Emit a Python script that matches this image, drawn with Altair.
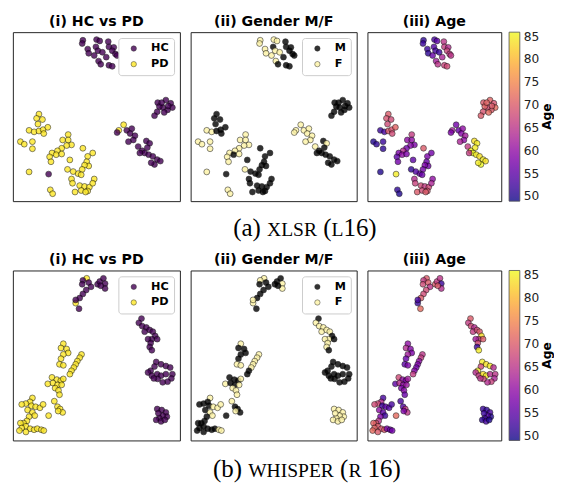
import altair as alt
import pandas as pd

# ---------------- XLSR (L16) t-SNE points ----------------
xlsr_x = ([41.9,41.5,50.1,52.0,44.8,45.4,49.7,50.9,48.7,53.6,57.1,57.5,60.4,59.5,61.4,62.4,51.3,52.6,57.5,59.5,55.9]
          + [86.7,91.6,94.5,95.5,92.6,89.7,87.7,86.4,84.8,90.6,93.0,89.1]
          + [66.3,63.4,62.4,68.2,71.2,70.2,73.1,72.1,69.2,75.0,77.4,79.9,81.9,78.9,81.3,83.8,86.4,88.3,84.8,82.8,80.5,76.0]
          + [15.6,14.2,17.7,15.0,9.7,12.7,15.6,18.1,20.9,18.5,11.7,4.5,6.8,11.7,9.7]
          + [33.1,29.8,33.1,35.1,32.2,29.2,26.7,23.4,22.0,25.9,29.2,22.8,34.1,41.9,44.8,47.8,44.2,45.4,42.9,41.5,
             39.0,36.1,32.7,40.9,35.1,35.7,40.0,42.9,45.8,44.8,48.7,47.8,37.2,40.9,43.5,22.4,23.8,21.4])
xlsr_y = ([95.2,93.3,95.6,94.8,90.0,87.5,91.3,89.0,86.2,88.1,94.4,91.3,91.0,89.0,87.1,86.2,82.9,81.0,80.4,79.8,85.2]
          + [58.3,59.8,57.9,55.4,54.0,55.4,56.0,52.9,50.6,52.5,56.3,58.3]
          + [45.2,41.9,40.6,41.9,42.9,40.0,38.7,36.2,35.2,32.3,29.8,35.6,34.2,28.5,27.5,26.5,24.6,23.7,21.7,22.7,31.7,28.5]
          + [51.5,49.0,48.3,45.6,41.9,41.0,41.5,42.3,43.7,40.0,35.2,35.2,33.7,31.0,17.3]
          + [39.4,36.2,36.2,33.3,32.9,31.3,29.8,28.5,26.2,27.5,27.9,23.3,24.4,31.3,26.5,28.5,23.3,20.8,21.3,18.8,
             16.3,17.5,18.8,15.6,13.1,10.6,9.2,8.7,8.3,6.0,13.1,10.6,5.4,6.3,5.4,6.7,4.4,16.0])
xlsr_cls = (["HC"] * 21 + ["HC"] * 12 + ["PD"] * 2 + ["HC"] * 20 + ["PD"] * 15 + ["PD"] * 37 + ["HC"])
xlsr_gender = (list("FFFFFFMFFF" + "MMMMMM" + "FMMMM") + ["M"] * 12
               + list("F" * 10 + "MM" + "F" + "M" * 9) + list("MMMMFFMMMMFFFFF")
               + list("F" * 9 + "M" + "FF" + "M" * 10 + "F" + "M" * 12 + "FFM"))
xlsr_age = ([51,52,53,55,52,51,54,53,56,52,65,66,64,67,66,65,62,65,67,68,63]
            + [70,71,69,72,70,68,71,69,70,72,70,71]
            + [57,62,58,56,60,59,62,60,63,66,85,84,85,86,85,84,85,84,86,85,85,66]
            + [70,69,68,68,52,53,70,69,71,68,52,50,51,51,50]
            + [66,60,60,58,59,57,64,58,55,60,58,57,55,70,58,57,56,57,58,57,
               56,54,51,56,64,67,68,66,68,69,60,63,70,68,70,51,50,85])

# ---------------- WHISPER (R 16) t-SNE points ----------------
wh_x = ([44.2,37.6,41.9,41.5,45.4,46.8,43.9,41.9,40.0,37.6,39.6,50.7,52.0,54.2,55.2,55.2,52.6]
        + [77.0,75.4,77.4,79.9,78.9,81.9,83.8,85.2,83.2,80.9,82.5,86.4,81.9,83.2]
        + [85.8,88.7,91.6,94.2,84.8,82.5,80.9,83.2,86.4,88.7,91.6,95.5,94.9,92.6,89.7,86.7,84.4]
        + [86.4,89.1,91.6,92.2,89.7,87.7,85.8,88.7,91.0,87.1]
        + [30.2,28.8,32.2,33.1,30.2,28.8,27.9,30.2]
        + [41.1,40.0,38.6,37.6,36.5,35.1,34.1]
        + [23.4,26.3,28.7,30.2,20.9,24.0,26.7,29.2,25.3,27.3,27.9,24.8,26.7,28.3,29.8,27.1,21.4]
        + [11.7,10.3,7.8,5.3,11.1,13.6,16.2,18.1,8.8,11.7,13.1,9.7,8.4,6.4,4.5,7.8,10.3,12.7,5.3,3.9,7.8,14.6,17.0,18.5])
wh_y = ([95.4,80.8,94.2,91.9,92.9,90.4,88.5,86.2,83.8,82.7,77.5,91.9,93.5,95.4,92.3,89.4,91.0]
        + [71.7,69.2,67.3,66.5,64.0,65.0,64.0,61.5,59.6,59.6,57.3,59.6,55.0,53.1]
        + [46.2,44.8,43.8,42.9,43.5,41.0,40.0,38.1,39.0,38.1,39.0,39.0,36.5,34.6,34.2,36.2,36.5]
        + [18.5,17.9,16.5,14.0,14.6,13.1,12.1,11.2,12.1,16.0]
        + [56.9,54.4,53.8,51.5,50.6,48.1,44.8,44.2]
        + [50.6,48.7,46.7,44.8,42.9,41.0,39.0]
        + [37.1,35.8,35.2,36.2,33.3,33.8,32.7,32.7,30.8,29.4,26.9,23.1,19.8,18.5,16.5,17.3,14.6]
        + [25.0,22.7,21.7,21.2,20.4,19.8,19.2,21.2,17.9,16.5,14.6,14.0,11.5,10.2,10.2,8.3,6.9,6.3,7.3,5.8,5.0,6.9,6.3,5.8])
wh_cls = ["PD"] * 2 + ["HC"] * 15 + ["HC"] * 14 + ["HC"] * 17 + ["HC"] * 10 + ["PD"] * 56
wh_gender = (list("FFFMMMMMMFMMMMFFM") + list("MFFFFFFMFFFMFM") + ["M"] * 17 + ["F"] * 10
             + list("FMMMMMFF") + list("FFFFFMM") + list("MMMFFMMFFFFFMMMFM")
             + list("FMMMMFFFMFFMMMMMMMMMMMFF"))
wh_age = ([70,52,66,68,70,65,68,68,70,53,72,70,66,65,52,64,70]
          + [70,66,68,64,66,68,70,84,66,62,68,70,52,85]
          + [85,84,85,64,68,85,64,66,84,85,64,65,63,67,64,67,65]
          + [52,51,53,50,54,52,51,53,50,52]
          + [60,64,59,58,62,56,55,58]
          + [65,66,60,58,57,59,66]
          + [68,60,58,62,55,64,60,61,58,59,56,53,54,66,65,58,72]
          + [53,64,68,68,52,55,54,53,60,55,52,58,65,70,71,70,69,70,71,72,70,58,56,57])

panel_titles = ["(i) HC vs PD", "(ii) Gender M/F", "(iii) Age"]
colorbar_title = ["Age"]
class_domain = ["HC", "PD"]
class_colors = ["#440154", "#fde725"]
gender_domain = ["M", "F"]
gender_colors = ["#000000", "#fdf3a6"]
age_ticks = [50, 55, 60, 65, 70, 75, 80, 85]
age_domain = [49, 86]

for arrs in [(xlsr_x, xlsr_y, xlsr_cls, xlsr_gender, xlsr_age), (wh_x, wh_y, wh_cls, wh_gender, wh_age)]:
    n = len(arrs[0])
    if any(len(a) != n for a in arrs):
        raise ValueError([len(a) for a in arrs])

df_a = pd.DataFrame({"x": xlsr_x, "y": xlsr_y, "cls": xlsr_cls, "gender": xlsr_gender, "age": xlsr_age})
df_b = pd.DataFrame({"x": wh_x, "y": wh_y, "cls": wh_cls, "gender": wh_gender, "age": wh_age})

TITLE_FONT = "DejaVu Sans"


def cat_legend():
    return alt.Legend(title=None, orient="top-right", offset=6, fillColor="white",
                      strokeColor="#cccccc", cornerRadius=3, padding=5,
                      symbolType="circle", symbolSize=30, symbolStrokeColor="black",
                      symbolStrokeWidth=0.5, symbolOffset=5, labelFont=TITLE_FONT,
                      labelFontWeight="bold", labelFontSize=11.5, labelColor="black",
                      labelOffset=12, rowPadding=3)


def scatter(df, field, ftype, scale, legend):
    return alt.Chart(df).mark_circle(size=36, opacity=0.8, stroke="black", strokeWidth=0.6).encode(
        x=alt.X("x:Q", scale=alt.Scale(domain=[0, 100], nice=False, zero=False), axis=None),
        y=alt.Y("y:Q", scale=alt.Scale(domain=[0, 100], nice=False, zero=False), axis=None),
        color=alt.Color(f"{field}:{ftype}", scale=scale, legend=legend),
    )


def dress(ch, idx, w, h):
    return ch.properties(
        width=w, height=h,
        title=alt.TitleParams(panel_titles[idx], font=TITLE_FONT, fontSize=14.5, fontWeight="bold",
                              offset=3, color="black", anchor="middle"),
        view=alt.ViewBackground(stroke="#222222", strokeWidth=1),
    )


def row(df, h):
    p1 = dress(scatter(df, "cls", "N", alt.Scale(domain=class_domain, range=class_colors), cat_legend()),
               0, 171, h)
    p2 = dress(scatter(df, "gender", "N", alt.Scale(domain=gender_domain, range=gender_colors), cat_legend()),
               1, 170, h)
    sc = scatter(df, "age", "Q", alt.Scale(scheme="plasma", domain=age_domain),
                 alt.Legend(title=None, orient="right", offset=8, direction="vertical",
                            gradientLength=h, gradientThickness=11, values=age_ticks,
                            labelFont=TITLE_FONT, labelFontSize=12.5, labelColor="#222222", labelOffset=4,
                            gradientStrokeColor="#222222", gradientStrokeWidth=0.8))
    lab = alt.Chart(pd.DataFrame({"t": colorbar_title})).mark_text(
        angle=270, font=TITLE_FONT, fontWeight="bold", fontSize=12.5, color="black",
        align="center", baseline="middle"
    ).encode(x=alt.value(184), y=alt.value(h / 2), text="t:N")
    p3 = dress(alt.layer(sc, lab), 2, 137, h)
    return alt.hconcat(p1, p2, p3, spacing=9).resolve_scale(
        color="independent", x="independent", y="independent").resolve_legend(color="independent")


# caption pieces: (text, small-caps?)
cap_a = [("(a)", False), (" ", False), ("XLSR", True), (" ", False), ("(", False), ("L", True), ("16)", False)]
cap_b = [("(b)", False), (" ", False), ("WHISPER", True), (" ", False), ("(", False), ("R", True),
         (" ", False), ("16)", False)]
SERIF_W = {"(": .333, ")": .333, "a": .444, "b": .5, " ": .25, "X": .722, "L": .611, "S": .556,
           "R": .667, "1": .5, "6": .5, "W": .944, "H": .722, "I": .333, "P": .556, "E": .611}
N_SIZE, S_SIZE = 25.5, 20


def caption(pieces, center, base_y, h):
    rows, cur = [], 0.0
    for t, sc in pieces:
        fs = S_SIZE if sc else N_SIZE
        w = sum(SERIF_W[c] for c in t) * fs
        if t.strip():
            rows.append({"t": t, "px": cur, "fs": fs})
        cur += w
    for r in rows:
        r["px"] += center - cur / 2
    return alt.Chart(pd.DataFrame(rows)).mark_text(
        align="left", baseline="alphabetic", font="Liberation Serif", color="black"
    ).encode(
        x=alt.X("px:Q", scale=None, axis=None),
        y=alt.value(base_y),
        size=alt.Size("fs:Q", scale=None, legend=None),
        text="t:N",
    ).properties(width=540, height=h)


chart = alt.vconcat(
    row(df_a, 173),
    caption(cap_a, 299, 32, 47),
    row(df_b, 174),
    caption(cap_b, 301, 33, 40),
    spacing=0,
).properties(
    padding={"left": 4, "top": 0, "right": 0, "bottom": 0}
).configure_view(stroke="transparent")

chart.save("out.html", embed_options={"renderer": "svg", "actions": False})
